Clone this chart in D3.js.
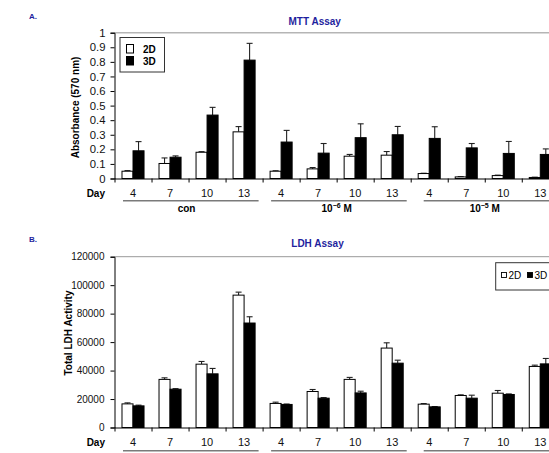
<!DOCTYPE html>
<html>
<head>
<meta charset="utf-8">
<script src="https://cdn.jsdelivr.net/npm/d3@7"></script>
<style>
  body { margin: 0; background: #fff; }
  svg { display: block; font-family: "Liberation Sans", Arial, sans-serif; }
</style>
</head>
<body>
<svg id="chart" width="549" height="453"></svg>
<script>
// ---------- data ----------
const days = [4, 7, 10, 13];
const groupLabels = ["con", "10^-6 M", "10^-5 M"];
const seriesNames = ["2D", "3D"];

// MTT assay (absorbance 570 nm), 12 categories: con, 10^-6 M, 10^-5 M x days
const mtt2D    = [0.05, 0.103, 0.18, 0.32,   0.05, 0.066, 0.153, 0.16,   0.034, 0.011, 0.02, 0.007];
const mtt2DErr = [0.004, 0.038, 0.004, 0.036, 0.003, 0.009, 0.012, 0.025, 0.002, 0.002, 0.003, 0.002];
const mtt3D    = [0.19, 0.146, 0.435, 0.812, 0.25, 0.174, 0.28, 0.30,    0.275, 0.21, 0.172, 0.165];
const mtt3DErr = [0.063, 0.009, 0.053, 0.115, 0.08, 0.066, 0.095, 0.057, 0.08, 0.03, 0.082, 0.038];
const mttTicks = [0, 0.1, 0.2, 0.3, 0.4, 0.5, 0.6, 0.7, 0.8, 0.9, 1];

// LDH assay (total LDH activity)
const ldh2D    = [16600, 33800, 44500, 93000,  16900, 25300, 33800, 55800,  16400, 22500, 24100, 42900];
const ldh2DErr = [700, 1100, 1900, 2100,       900, 1400, 1400, 3700,       400, 450, 1900, 900];
const ldh3D    = [15200, 26900, 37700, 73400,  16200, 20600, 24300, 45200,  14500, 20600, 23200, 44700];
const ldh3DErr = [500, 400, 3800, 4400,        300, 400, 1200, 2100,        200, 2100, 400, 3800];
const ldhTicks = [0, 20000, 40000, 60000, 80000, 100000, 120000];

// ---------- layout ----------
const svg = d3.select("#chart");
const blue = "#1f1f9e";
const cats = d3.range(groupLabels.length * days.length);
const xLeft = 114.5, xRight = 558.8;

const x0 = d3.scaleBand().domain(cats).range([xLeft, xRight]);
const x1 = d3.scaleBand().domain(seriesNames).range([0, x0.bandwidth()]).paddingOuter(0.68);
const xb = d3.scaleLinear().domain([0, cats.length]).range([xLeft, xRight]);

function drawPanel(opt) {
  const g = svg.append("g");
  const y = opt.y;
  const [y0, yTop] = y.range();

  // top plot border
  g.append("line").attr("x1", xLeft).attr("x2", xRight)
    .attr("y1", yTop).attr("y2", yTop)
    .attr("stroke", opt.borderColor).attr("stroke-width", opt.borderWidth);

  // bars
  const rows = [];
  cats.forEach(i => {
    rows.push({ i, s: "2D", v: opt.s2[i], e: opt.e2[i] });
    rows.push({ i, s: "3D", v: opt.s3[i], e: opt.e3[i] });
  });
  // error bars (upper only)
  const eg = g.append("g").attr("stroke", "#222").attr("stroke-width", 1.1);
  rows.forEach(d => {
    const cx = x0(d.i) + x1(d.s) + x1.bandwidth() / 2;
    eg.append("line").attr("x1", cx).attr("x2", cx).attr("y1", y(d.v)).attr("y2", y(d.v + d.e));
    eg.append("line").attr("x1", cx - 3).attr("x2", cx + 3).attr("y1", y(d.v + d.e)).attr("y2", y(d.v + d.e));
  });
  g.append("g").selectAll("rect").data(rows).join("rect")
    .attr("x", d => x0(d.i) + x1(d.s))
    .attr("width", x1.bandwidth())
    .attr("y", d => y(d.v))
    .attr("height", d => y0 - y(d.v))
    .attr("fill", d => d.s === "2D" ? "#fff" : "#000")
    .attr("stroke", "#000").attr("stroke-width", 1);

  // y axis
  const ya = g.append("g").attr("transform", `translate(${xLeft},0)`)
    .call(d3.axisLeft(y).tickValues(opt.ticks).tickSize(4).tickPadding(opt.tickPad).tickFormat(opt.fmt));
  ya.selectAll("text").attr("font-size", opt.tickFont).attr("fill", "#111")
    .attr("font-family", '"Liberation Sans", Arial, sans-serif');
  ya.select(".domain").attr("stroke", "#000");

  // x axis (ticks at category boundaries)
  const xa = g.append("g").attr("transform", `translate(0,${y0})`)
    .call(d3.axisBottom(xb).tickValues(d3.range(0, cats.length + 1)).tickSize(4).tickSizeOuter(0).tickFormat(""));
  xa.select(".domain").attr("stroke", "#000");

  // day labels
  g.append("g").selectAll("text").data(cats).join("text")
    .attr("x", d => x0(d) + x0.bandwidth() / 2)
    .attr("y", opt.dayY)
    .attr("text-anchor", "middle").attr("font-size", 11).attr("fill", "#111")
    .text(d => days[d % days.length]);
  g.append("text").attr("x", 105).attr("y", opt.dayY)
    .attr("text-anchor", "end").attr("font-size", 10).attr("font-weight", "bold").text("Day");

  // group underlines and labels
  groupLabels.forEach((lab, gi) => {
    const gx0 = xb(gi * days.length), gx1 = xb((gi + 1) * days.length);
    g.append("line").attr("x1", gx0 + (gi === 2 ? 13 : 8.5)).attr("x2", gx1 - 4)
      .attr("y1", opt.lineY).attr("y2", opt.lineY)
      .attr("stroke", "#7a7a7a").attr("stroke-width", 1.6);
    if (!opt.showGroupLabels) return;
    const t = g.append("text").attr("x", (gx0 + gx1) / 2 - (gi === 0 ? 2 : 0)).attr("y", opt.groupY)
      .attr("text-anchor", "middle").attr("font-size", 10).attr("font-weight", "bold");
    const m = lab.match(/^(\S+)\^(\S+)(.*)$/);
    if (m) {
      t.append("tspan").text(m[1]);
      t.append("tspan").attr("font-size", 7).attr("dy", -3.5).text(m[2].replace("-", "\u2212"));
      t.append("tspan").attr("dy", 3.5).text(m[3]);
    } else t.text(lab);
  });

  // y label
  g.append("text").attr("transform", `translate(${opt.yLabX},${opt.yLabY}) rotate(-90)`)
    .attr("text-anchor", "middle").attr("font-size", 10).attr("font-weight", "bold")
    .text(opt.yLabel);

  // title & panel letter
  g.append("text").attr("x", opt.titleX).attr("y", opt.titleY).attr("text-anchor", "middle")
    .attr("font-size", 10).attr("font-weight", "bold").attr("fill", blue).text(opt.title);
  g.append("text").attr("x", 29).attr("y", opt.letterY)
    .attr("font-size", 8).attr("font-weight", "bold").attr("fill", blue).text(opt.letter);
  return g;
}

// ---------- panel A : MTT ----------
const yA = d3.scaleLinear().domain([0, 1]).range([178.5, 32.7]);
const gA = drawPanel({
  y: yA, s2: mtt2D, e2: mtt2DErr, s3: mtt3D, e3: mtt3DErr, ticks: mttTicks,
  fmt: d => (d === 0 || d === 1) ? String(d) : d.toFixed(1),
  tickFont: 11.3, tickPad: 5, borderColor: "#b5b5b5", borderWidth: 1.6,
  dayY: 197, lineY: 200.7, groupY: 211.5, showGroupLabels: true,
  yLabel: "Absorbance (570 nm)", yLabX: 79, yLabY: 107.5,
  title: "MTT Assay", titleX: 314.7, titleY: 25, letter: "A.", letterY: 19
});
// legend A
const legA = gA.append("g");
legA.append("rect").attr("x", 120).attr("y", 37.5).attr("width", 44.5).attr("height", 34.5)
  .attr("fill", "#fff").attr("stroke", "#333").attr("stroke-width", 1);
seriesNames.forEach((s, i) => {
  legA.append("rect").attr("x", 126.5).attr("y", 44.5 + i * 12).attr("width", 7).attr("height", 8.5)
    .attr("fill", s === "2D" ? "#fff" : "#000").attr("stroke", "#000").attr("stroke-width", 1);
  legA.append("text").attr("x", 143).attr("y", 52.7 + i * 12.3)
    .attr("font-size", 10).attr("font-weight", "bold").text(s);
});

// ---------- panel B : LDH ----------
const yB = d3.scaleLinear().domain([0, 120000]).range([427.5, 256.7]);
const gB = drawPanel({
  y: yB, s2: ldh2D, e2: ldh2DErr, s3: ldh3D, e3: ldh3DErr, ticks: ldhTicks,
  fmt: d => String(d), tickFont: 10, tickPad: 6, borderColor: "#999", borderWidth: 1,
  dayY: 446, lineY: 450.7, groupY: 462, showGroupLabels: false,
  yLabel: "Total LDH Activity", yLabX: 72, yLabY: 333,
  title: "LDH Assay", titleX: 317.5, titleY: 247, letter: "B.", letterY: 241.5
});
// legend B
const legB = gB.append("g");
legB.append("rect").attr("x", 495.7).attr("y", 262.7).attr("width", 70).attr("height", 27.3)
  .attr("fill", "#fff").attr("stroke", "#333").attr("stroke-width", 1);
seriesNames.forEach((s, i) => {
  legB.append("rect").attr("x", 501.5 + i * 26).attr("y", 272.5).attr("width", 5).attr("height", 5)
    .attr("fill", s === "2D" ? "#fff" : "#000").attr("stroke", "#000").attr("stroke-width", 0.9);
  legB.append("text").attr("x", 508.5 + i * 26).attr("y", 278.5)
    .attr("font-size", 10).text(s);
});
</script>
</body>
</html>
